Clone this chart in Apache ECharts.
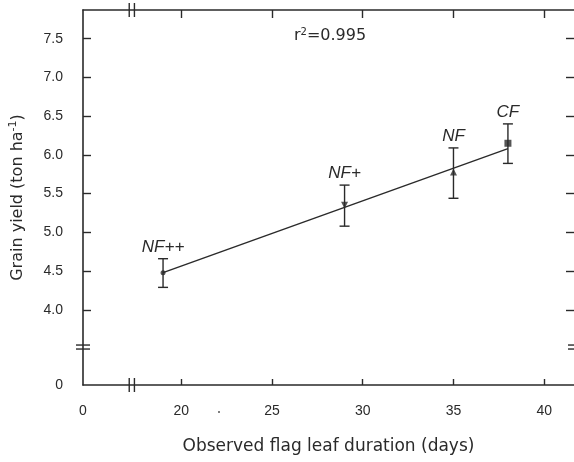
<!DOCTYPE html>
<html>
<head>
<meta charset="utf-8">
<script src="https://cdn.jsdelivr.net/npm/echarts@6/dist/echarts.min.js"></script>
<style>
html,body{margin:0;padding:0;background:#fff;}
#chart{width:574px;height:462px;}
</style>
</head>
<body>
<div id="chart"></div>
<script type="text/javascript">
    // treatments
    var groups = ['NF++', 'NF+', 'NF', 'CF'];
    var duration = [19, 29, 35, 38];
    var yieldMean = [4.48, 5.35, 5.78, 6.15];
    var yieldLow = [4.29, 5.08, 5.44, 5.89];
    var yieldHigh = [4.66, 5.61, 6.09, 6.40];
    // regression line ends
    var fitX = [19, 38];
    var fitY = [4.48, 6.08];
    // ticks
    var xTicks = [20, 25, 30, 35, 40];
    var yTicks = [4.0, 4.5, 5.0, 5.5, 6.0, 6.5, 7.0, 7.5];
    // broken axes: where the real 0 is drawn
    var xZero = 14.59, xMax = 41.64;
    var yZero = 3.03, yMax = 7.87;
    var xBreak = 17.28, yBreak = 3.52;

    var ink = '#2a2a2a';
    var font = 'Liberation Sans';

    var chart = echarts.init(document.getElementById('chart'));

    function axisX(pos, showLabel, tickLen) {
        return {
            type: 'value', position: pos, min: xZero, max: xMax,
            axisLine: {show: true, lineStyle: {color: ink, width: 1.6}},
            axisTick: {show: true, inside: true, length: tickLen, customValues: xTicks, lineStyle: {color: ink, width: 1.4}},
            axisLabel: {show: showLabel, customValues: [xZero].concat(xTicks), margin: 19,
                color: ink, fontFamily: font, fontSize: 14,
                formatter: function (v) { return v < 15 ? '0' : String(v); }},
            splitLine: {show: false}
        };
    }
    function axisY(pos, showLabel) {
        return {
            type: 'value', position: pos, min: yZero, max: yMax,
            axisLine: {show: showLabel, lineStyle: {color: ink, width: 1.6}},
            axisTick: {show: true, inside: true, length: 8, customValues: yTicks, lineStyle: {color: ink, width: 1.4}},
            axisLabel: {show: showLabel, customValues: [yZero].concat(yTicks), margin: 20,
                color: ink, fontFamily: font, fontSize: 14,
                formatter: function (v) { return v < 3.5 ? '0' : v.toFixed(1); }},
            splitLine: {show: false}
        };
    }

    var xb = axisX('bottom', true, 6);
    xb.name = 'Observed flag leaf duration (days)';
    xb.nameLocation = 'middle';
    xb.nameGap = 53;
    xb.nameTextStyle = {color: ink, fontFamily: 'DejaVu Sans', fontSize: 17};

    var yl = axisY('left', true);
    yl.name = '{n|Grain yield (ton ha}{sup|-1}{n|)}';
    yl.nameLocation = 'middle';
    yl.nameGap = 55;
    yl.nameTextStyle = {color: ink, fontFamily: 'DejaVu Sans', fontSize: 16,
        rich: {
            n: {fontFamily: 'DejaVu Sans', fontSize: 16, color: ink},
            sup: {fontFamily: 'DejaVu Sans', fontSize: 11, color: ink, padding: [0, 0, 9, 0]}
        }};

    var points = [], bars = [];
    for (var i = 0; i < groups.length; i++) {
        points.push([duration[i], yieldMean[i]]);
        bars.push([duration[i], yieldLow[i], yieldHigh[i], groups[i]]);
    }
    var fitData = [];
    for (var j = 0; j < fitX.length; j++) fitData.push([fitX[j], fitY[j]]);

    var symbols = ['circle', 'triangle', 'triangle', 'rect'];
    var symbolSizes = [5, 7, 7, 7];
    var symbolRot = [0, 180, 0, 0];

    var option = {
        animation: false,
        grid: {left: 81, width: 495, top: 10, bottom: 77},
        xAxis: [xb, axisX('top', false, 8)],
        yAxis: [yl, axisY('right', false)],
        series: [
            {
                type: 'line', data: fitData, showSymbol: false,
                lineStyle: {color: ink, width: 1.4}, z: 2
            },
            {
                type: 'custom', data: bars, z: 3,
                renderItem: function (params, api) {
                    var lo = api.coord([api.value(0), api.value(1)]);
                    var hi = api.coord([api.value(0), api.value(2)]);
                    var c = 5;
                    var st = {stroke: ink, lineWidth: 1.4};
                    return {type: 'group', children: [
                        {type: 'line', shape: {x1: lo[0], y1: lo[1], x2: hi[0], y2: hi[1]}, style: st},
                        {type: 'line', shape: {x1: lo[0] - c, y1: lo[1], x2: lo[0] + c, y2: lo[1]}, style: st},
                        {type: 'line', shape: {x1: hi[0] - c, y1: hi[1], x2: hi[0] + c, y2: hi[1]}, style: st},
                        {type: 'text', x: hi[0], y: hi[1] - 3, style: {
                            text: groups[params.dataIndex], fill: ink, fontFamily: font,
                            fontStyle: 'italic', fontSize: 17, align: 'center', verticalAlign: 'bottom'}}
                    ]};
                }
            },
            {
                type: 'scatter', z: 4,
                data: points.map(function (p, k) {
                    return {value: p, symbol: symbols[k], symbolSize: symbolSizes[k], symbolRotate: symbolRot[k]};
                }),
                itemStyle: {color: ink}
            }
        ]
    };
    chart.setOption(option);

    // break marks and r2 note
    var g = [];
    var lineSt = {stroke: ink, lineWidth: 1.4};
    var yb = chart.convertToPixel({xAxisIndex: 0, yAxisIndex: 0}, [xZero, yBreak]);
    var xbP = chart.convertToPixel({xAxisIndex: 0, yAxisIndex: 0}, [xBreak, yZero]);
    var leftX = yb[0], rightX = 576, bY = xbP[1], topY = 10;
    [-2, 2].forEach(function (d) {
        g.push({type: 'line', shape: {x1: leftX - 7, y1: yb[1] + d, x2: leftX + 7, y2: yb[1] + d}, style: lineSt});
        g.push({type: 'line', shape: {x1: rightX - 8, y1: yb[1] + d, x2: rightX + 8, y2: yb[1] + d}, style: lineSt});
        g.push({type: 'line', shape: {x1: xbP[0] + d * 1.3, y1: bY - 7, x2: xbP[0] + d * 1.3, y2: bY + 7}, style: lineSt});
        g.push({type: 'line', shape: {x1: xbP[0] + d * 1.3, y1: topY - 7, x2: xbP[0] + d * 1.3, y2: topY + 7}, style: lineSt});
    });
    g.push({type: 'circle', shape: {cx: 219, cy: 412, r: 1}, style: {fill: '#555'}});
    g.push({type: 'text', left: 294, top: 27, style: {
        text: '{n|r}{sup|2}{n|=0.995}', fill: ink,
        rich: {
            n: {fontFamily: 'DejaVu Sans', fontSize: 16, fill: ink},
            sup: {fontSize: 10, fontFamily: 'DejaVu Sans', fill: ink, padding: [0, 0, 8, 0]}
        }}});
    chart.setOption({graphic: g});
</script>
</body>
</html>
